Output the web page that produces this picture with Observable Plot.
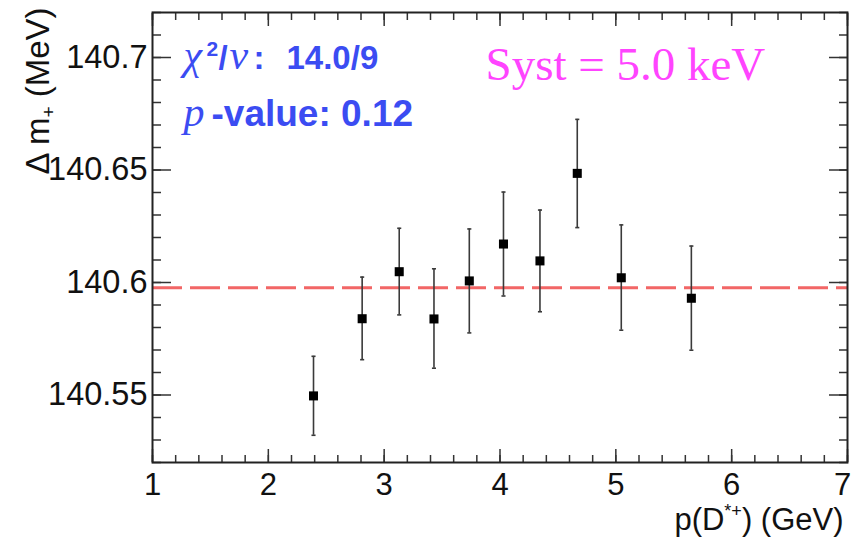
<!DOCTYPE html>
<html><head><meta charset="utf-8">
<script src="https://cdn.jsdelivr.net/npm/d3@7"></script>
<script src="https://cdn.jsdelivr.net/npm/@observablehq/plot@0.6"></script>
<style>body{margin:0;background:#fff}</style>
</head><body><div id="chart"></div>
<script>
// ---- data ----
const momentum = [2.39, 2.81, 3.13, 3.43, 3.735, 4.03, 4.345, 4.667, 5.047, 5.652];
const deltaM   = [140.5496, 140.5839, 140.6048, 140.5838, 140.6007, 140.6171, 140.6096, 140.6485, 140.6021, 140.5930];
const errLow   = [140.5321, 140.5657, 140.5856, 140.5619, 140.5776, 140.5940, 140.5870, 140.6244, 140.5788, 140.5699];
const errHigh  = [140.5672, 140.6024, 140.6241, 140.6061, 140.6238, 140.6402, 140.6322, 140.6725, 140.6256, 140.6162];
const fitValue = 140.5977;
const xTicks = [1, 2, 3, 4, 5, 6, 7];
const yTicks = [140.55, 140.6, 140.65, 140.7];
const xMinor = d3.range(5, 36).map(d => d / 5);
const yMinor = d3.range(14052, 14073).map(d => d / 100);
const chiText = "χ2/ν: 14.0/9";
const pText = "p-value: 0.12";
const systText = "Syst = 5.0 keV";
const xLabel = "p(D*+) (GeV)";
const yLabel = "Δ m+ (MeV)";

const points = momentum.map((x, i) => ({x, y: deltaM[i], lo: errLow[i], hi: errHigh[i]}));

const capSymbol = {draw(ctx, size) { const w = Math.sqrt(size) / 2; ctx.moveTo(-w, 0); ctx.lineTo(w, 0); }};
const sans = "'Liberation Sans', Arial, Helvetica, sans-serif";
const serif = "'Liberation Serif', 'Times New Roman', serif";
const tickColor = "#333";
const blue = "#3b4cf2";

const svg = Plot.plot({
  width: 852, height: 538,
  marginLeft: 152, marginRight: 5, marginTop: 12, marginBottom: 76,
  style: {fontFamily: sans, color: "#111", background: "#fff"},
  x: {domain: [1, 7]},
  y: {domain: [140.52, 140.72]},
  marks: [
    // ticks (inward, ROOT style)
    Plot.axisX(xTicks, {anchor: "bottom", tickSize: -13, text: null, label: null, stroke: tickColor, strokeWidth: 1.5}),
    Plot.axisX(xMinor, {anchor: "bottom", tickSize: -7, text: null, label: null, stroke: tickColor, strokeWidth: 1.5}),
    Plot.axisX(xTicks, {anchor: "top", tickSize: -13, text: null, label: null, stroke: tickColor, strokeWidth: 1.5}),
    Plot.axisX(xMinor, {anchor: "top", tickSize: -7, text: null, label: null, stroke: tickColor, strokeWidth: 1.5}),
    Plot.axisY(yTicks, {anchor: "left", tickSize: -19, text: null, label: null, stroke: tickColor, strokeWidth: 1.5}),
    Plot.axisY(yMinor, {anchor: "left", tickSize: -9, text: null, label: null, stroke: tickColor, strokeWidth: 1.5}),
    Plot.axisY(yTicks, {anchor: "right", tickSize: -19, text: null, label: null, stroke: tickColor, strokeWidth: 1.5}),
    Plot.axisY(yMinor, {anchor: "right", tickSize: -9, text: null, label: null, stroke: tickColor, strokeWidth: 1.5}),
    // tick labels
    Plot.axisX(xTicks.slice(0, -1), {anchor: "bottom", tickSize: 0, tickPadding: 10, fontSize: 31, label: null, tickFormat: d => `${d}`}),
    Plot.axisX(xTicks.slice(-1), {anchor: "bottom", tickSize: 0, tickPadding: 10, fontSize: 31, label: null, dx: -5, tickFormat: d => `${d}`}),
    Plot.axisY(yTicks, {anchor: "left", tickSize: 0, tickPadding: 5, fontSize: 32.5, label: null, tickFormat: d => `${d}`}),
    // fit line
    Plot.ruleY([fitValue], {stroke: "#f26666", strokeWidth: 3, strokeDasharray: "30,8"}),
    // error bars
    Plot.ruleX(points, {x: "x", y1: "lo", y2: "hi", stroke: "#3a3a3a", strokeWidth: 1.6}),
    Plot.dot(points, {x: "x", y: "lo", symbol: capSymbol, r: 2.3, stroke: "#3a3a3a", strokeWidth: 1.6}),
    Plot.dot(points, {x: "x", y: "hi", symbol: capSymbol, r: 2.3, stroke: "#3a3a3a", strokeWidth: 1.6}),
    // points
    Plot.dot(points, {x: "x", y: "y", symbol: "square", r: 5.1, fill: "black"}),
    Plot.frame({stroke: "#222", strokeWidth: 2}),
    // axis titles
    Plot.text([xLabel], {frameAnchor: "bottom-right", textAnchor: "end", lineAnchor: "bottom", dx: -4, dy: 67, fontSize: 31, fill: "#111"}),
    Plot.text([yLabel], {frameAnchor: "top-left", textAnchor: "end", lineAnchor: "middle", rotate: -90, dx: -114, dy: -5, fontSize: 33, fill: "#111"}),
    // annotations
    Plot.text([chiText], {frameAnchor: "top-left", textAnchor: "start", lineAnchor: "bottom", dx: 31, dy: 56, fontSize: 33, fontWeight: "bold", fill: blue}),
    Plot.text([pText], {frameAnchor: "top-left", textAnchor: "start", lineAnchor: "bottom", dx: 31, dy: 113, fontSize: 37, fontWeight: "bold", fill: blue}),
    Plot.text([systText], {frameAnchor: "top-left", textAnchor: "start", lineAnchor: "bottom", dx: 333, dy: 67, fontSize: 47, fontFamily: serif, fill: "#ff44ff"})
  ]
});

function rich(content, parts) {
  d3.select(svg).selectAll("text").filter(function () { return this.textContent === content; }).each(function () {
    const t = d3.select(this);
    const x0 = t.attr("x");
    t.text(null);
    for (const p of parts) {
      const s = t.append("tspan").text(p.text);
      for (const k in (p.attr || {})) {
        let v = p.attr[k];
        if (k === "x" && x0 != null) v = +x0 + v;
        s.attr(k, v);
      }
    }
  });
}
const greek = {"font-family": serif, "font-weight": "normal", "font-style": "italic", "font-size": 42};
rich(chiText, [
  {text: "χ", attr: {...greek, x: 0}},
  {text: "2", attr: {"font-size": 21, dy: -13, x: 23}},
  {text: "/", attr: {dy: 13, x: 35}},
  {text: "ν", attr: {...greek, x: 46}},
  {text: ":", attr: {x: 70}},
  {text: "14.0/9", attr: {x: 103}}
]);
rich(pText, [
  {text: "p", attr: {...greek, x: 0}},
  {text: "-value: 0.12", attr: {x: 28}}
]);
rich(xLabel, [
  {text: "p(D"},
  {text: "*+", attr: {"font-size": 18, dy: -13}},
  {text: ") (GeV)", attr: {dy: 13}}
]);
rich(yLabel, [
  {text: "Δ m"},
  {text: "+", attr: {"font-size": 19, dy: 6}},
  {text: " (MeV)", attr: {dy: -6}}
]);

document.getElementById("chart").appendChild(svg);
</script>
</body></html>
